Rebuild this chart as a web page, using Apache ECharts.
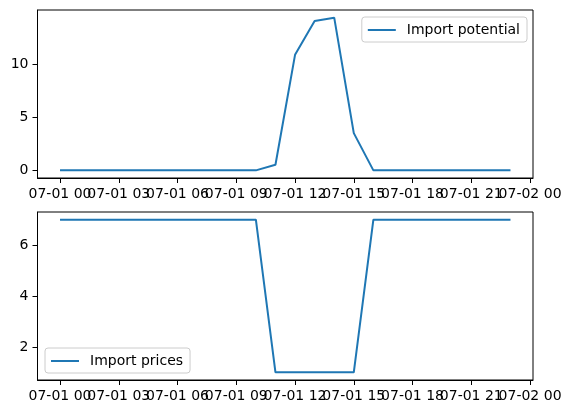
<!DOCTYPE html>
<html>
<head>
<meta charset="utf-8">
<script src="https://cdn.jsdelivr.net/npm/echarts@6/dist/echarts.min.js"></script>
<style>
  html, body { margin: 0; padding: 0; background: #fff; }
  #chart { width: 571px; height: 413px; }
</style>
</head>
<body>
<div id="chart"></div>
<script>
// hours since 07-01 00
const hours = [0, 1, 2, 3, 4, 5, 6, 7, 8, 9, 10, 11, 12, 13, 14, 15, 16, 17, 18, 19, 20, 21, 22, 23];
const importPotential = [0, 0, 0, 0, 0, 0, 0, 0, 0, 0, 0, 0.53, 10.87, 14.06, 14.37, 3.5, 0, 0, 0, 0, 0, 0, 0, 0];
const importPrices = [7, 7, 7, 7, 7, 7, 7, 7, 7, 7, 7, 1, 1, 1, 1, 1, 7, 7, 7, 7, 7, 7, 7, 7];
const xTickHours = [0, 3, 6, 9, 12, 15, 18, 21, 24];
const xTickLabels = ['07-01 00', '07-01 03', '07-01 06', '07-01 09', '07-01 12', '07-01 15', '07-01 18', '07-01 21', '07-02 00'];
const topTicks = [0, 5, 10];
const bottomTicks = [2, 4, 6];

const FONT = 'DejaVu Sans';
const BLUE = '#1f77b4';

const chart = echarts.init(document.getElementById('chart'), null, { renderer: 'canvas' });

const axisLine = { show: true, onZero: false, lineStyle: { color: '#000', width: 1 } };

// empty labels at both ends, so echarts' min/max overlap check doesn't drop 03 and 21
const xLabelValues = [-1].concat(xTickHours, [24.1]);

const xAxisBase = (gridIndex) => ({
  type: 'value',
  gridIndex: gridIndex,
  min: -1.15,
  max: 24.15,
  axisLine: axisLine,
  splitLine: { show: false },
  axisTick: {
    show: true,
    inside: false,
    length: 5,
    customValues: xTickHours,
    lineStyle: { color: '#000', width: 1 }
  },
  axisLabel: {
    customValues: xLabelValues,
    showMinLabel: true,
    showMaxLabel: true,
    hideOverlap: false,
    margin: 9,
    color: '#000',
    fontFamily: FONT,
    fontSize: 14,
    formatter: (v) => {
      const i = xTickHours.indexOf(v);
      return i < 0 ? '' : xTickLabels[i];
    }
  }
});

const yAxisBase = (gridIndex, min, max, ticks) => ({
  type: 'value',
  gridIndex: gridIndex,
  min: min,
  max: max,
  axisLine: axisLine,
  splitLine: { show: false },
  axisTick: {
    show: true,
    inside: false,
    length: 5,
    customValues: ticks,
    lineStyle: { color: '#000', width: 1 }
  },
  axisLabel: {
    customValues: ticks,
    margin: 9,
    color: '#000',
    fontFamily: FONT,
    fontSize: 14
  }
});

const legendBase = {
  orient: 'vertical',
  icon: 'rect',
  itemWidth: 28,
  itemHeight: 2,
  padding: [6, 7, 5, 6],
  backgroundColor: 'rgba(255,255,255,0.8)',
  borderColor: '#cccccc',
  borderWidth: 1,
  borderRadius: 3,
  textStyle: { color: '#000', fontFamily: FONT, fontSize: 14, padding: [0, 0, 0, 6] }
};

const option = {
  animation: false,
  backgroundColor: '#fff',
  grid: [
    { left: 37.5, right: 38, top: 10, height: 168, show: true, borderColor: '#000', borderWidth: 1, backgroundColor: 'transparent' },
    { left: 37.5, right: 38, top: 212, height: 168, show: true, borderColor: '#000', borderWidth: 1, backgroundColor: 'transparent' }
  ],
  legend: [
    Object.assign({}, legendBase, { data: ['Import potential'], right: 44, top: 17 }),
    Object.assign({}, legendBase, { data: ['Import prices'], left: 45, top: 348 })
  ],
  xAxis: [xAxisBase(0), xAxisBase(1)],
  yAxis: [
    yAxisBase(0, -0.72, 15.09, topTicks),
    yAxisBase(1, 0.7, 7.3, bottomTicks)
  ],
  series: [
    {
      name: 'Import potential',
      type: 'line',
      xAxisIndex: 0,
      yAxisIndex: 0,
      showSymbol: false,
      symbol: 'none',
      color: BLUE,
      lineStyle: { color: BLUE, width: 2 },
      data: hours.map((h, i) => [h, importPotential[i]])
    },
    {
      name: 'Import prices',
      type: 'line',
      xAxisIndex: 1,
      yAxisIndex: 1,
      showSymbol: false,
      symbol: 'none',
      color: BLUE,
      lineStyle: { color: BLUE, width: 2 },
      data: hours.map((h, i) => [h, importPrices[i]])
    }
  ]
};

chart.setOption(option);
</script>
</body>
</html>
